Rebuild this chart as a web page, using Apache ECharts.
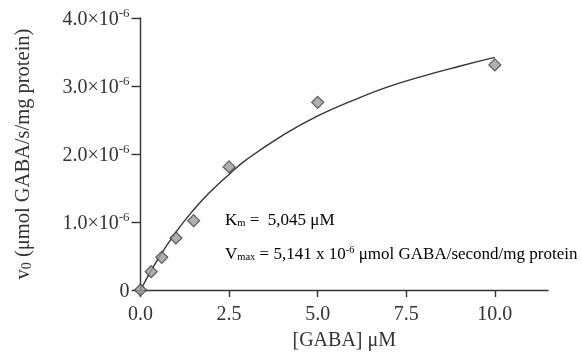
<!DOCTYPE html>
<html>
<head>
<meta charset="utf-8">
<script src="https://cdn.jsdelivr.net/npm/echarts@6/dist/echarts.min.js"></script>
<style>html,body{margin:0;padding:0;background:#fff}#c{width:582px;height:358px}</style>
</head>
<body>
<div id="c"></div>
<script>
// Measured data: x = [GABA] (µM), y = v0 in units of 1e-6 µmol GABA/s/mg protein
var gabaConc = [0, 0.3, 0.6, 1.0, 1.5, 2.5, 5.0, 10.0];
var velocity = [0, 0.27, 0.48, 0.765, 1.02, 1.81, 2.76, 3.31];
// Fitted curve (same units)
var fitX = [0, 0.5, 1, 1.5, 2, 2.5, 3, 4, 5, 6, 7, 8, 9, 10];
var fitY = [0, 0.46, 0.85, 1.18, 1.46, 1.70, 1.92, 2.27, 2.56, 2.79, 2.99, 3.15, 3.29, 3.42];
var xTicks = [0, 2.5, 5, 7.5, 10];
var xTickLabels = ['0.0', '2.5', '5.0', '7.5', '10.0'];
var yTicks = [0, 1, 2, 3, 4];
var yTickLabels = ['0', '1.0×10', '2.0×10', '3.0×10', '4.0×10'];

var FONT = 'Liberation Serif';
var INK = '#333333';

var chart = echarts.init(document.getElementById('c'), null, {renderer: 'canvas'});
var points = gabaConc.map(function (x, i) { return [x, velocity[i]]; });
var curve = fitX.map(function (x, i) { return [x, fitY[i]]; });

chart.setOption({
  animation: false,
  backgroundColor: '#ffffff',
  grid: {left: 140.5, right: 34, top: 18, bottom: 68, containLabel: false},
  xAxis: {
    type: 'value', min: 0, max: 11.5,
    name: '[GABA] μM', nameLocation: 'middle', nameGap: 41,
    nameTextStyle: {fontFamily: FONT, fontSize: 20, color: INK},
    axisLine: {onZero: false, lineStyle: {color: INK, width: 1.4}},
    axisTick: {show: true, length: 7, customValues: xTicks, lineStyle: {color: INK, width: 1.4}},
    axisLabel: {
      customValues: xTicks, margin: 15, fontFamily: FONT, fontSize: 20, color: INK,
      formatter: function (v) { return xTickLabels[xTicks.indexOf(v)] || ''; }
    },
    splitLine: {show: false}
  },
  yAxis: {
    type: 'value', min: 0, max: 4, interval: 1,
    name: '{a|v}{s|0}{a| (μmol GABA/s/mg protein)}', nameLocation: 'middle', nameGap: 106,
    nameRotate: 90,
    nameTextStyle: {
      fontFamily: FONT, fontSize: 20.5, color: INK,
      rich: {
        a: {fontFamily: FONT, fontSize: 20.5, color: INK},
        s: {fontFamily: FONT, fontSize: 14, color: INK, verticalAlign: 'bottom', padding: [8, 0, 0, 0]}
      }
    },
    axisLine: {show: true, onZero: false, lineStyle: {color: INK, width: 1.4}},
    axisTick: {show: true, length: 9, lineStyle: {color: INK, width: 1.4}},
    axisLabel: {
      margin: 11, fontFamily: FONT, fontSize: 20, color: INK,
      formatter: function (v) {
        var i = yTicks.indexOf(v);
        if (i <= 0) return '{m|0}';
        return '{m|' + yTickLabels[i] + '}{e|-6}';
      },
      rich: {
        m: {fontFamily: FONT, fontSize: 20, color: INK, padding: [4, 0, 0, 0]},
        e: {fontFamily: FONT, fontSize: 13, color: INK, padding: [0, 0, 8, 0]}
      }
    },
    splitLine: {show: false}
  },
  graphic: [
    {
      type: 'text', left: 225, top: 212,
      style: {
        text: '{a|K}{s|m}{a| =  5,045 μM}',
        rich: {
          a: {fontFamily: FONT, fontSize: 17, color: INK},
          s: {fontFamily: FONT, fontSize: 10.5, color: INK, padding: [6, 0, 0, 0]}
        }
      }
    },
    {
      type: 'text', left: 225, top: 245,
      style: {
        text: '{a|V}{s|max}{a| = 5,141 x 10}{e|-6}{a| μmol GABA/second/mg protein}',
        rich: {
          a: {fontFamily: FONT, fontSize: 17, color: INK},
          s: {fontFamily: FONT, fontSize: 10.5, color: INK, padding: [6, 0, 0, 0]},
          e: {fontFamily: FONT, fontSize: 10.5, color: INK, padding: [0, 0, 8, 0]}
        }
      }
    }
  ],
  series: [
    {
      type: 'line', data: curve, smooth: true, symbol: 'none',
      lineStyle: {color: INK, width: 1.4}, z: 2
    },
    {
      type: 'scatter', data: points, symbol: 'diamond', symbolSize: 12,
      itemStyle: {color: '#a39a9a', borderColor: '#3a3a3a', borderWidth: 1.2}, z: 3
    }
  ]
});
</script>
</body>
</html>
